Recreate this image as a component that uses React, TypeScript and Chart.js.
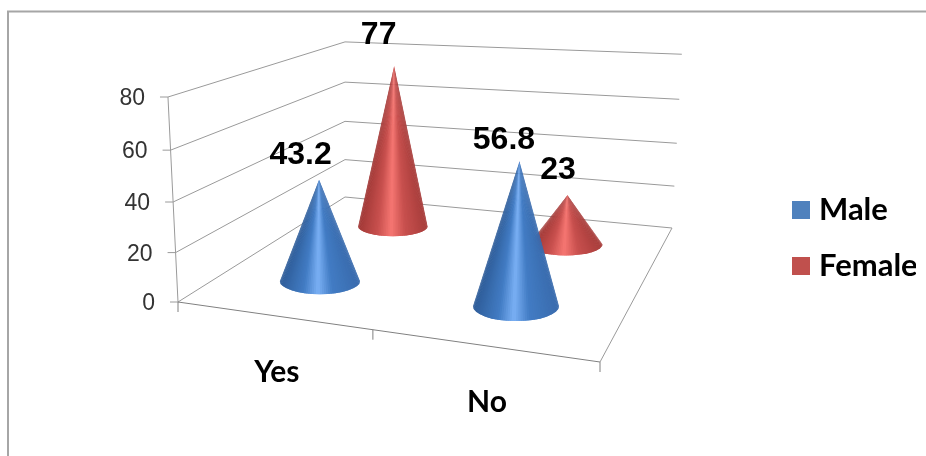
import { useEffect, useRef } from "react";
import { Chart, registerables } from "chart.js";

Chart.register(...registerables);

const categories = ["Yes", "No"];
const seriesNames = ["Male", "Female"];
const maleValues = [43.2, 56.8];
const femaleValues = [77, 23];
const yTickValues = { min: 0, max: 80, step: 20 };
const seriesColors = ["#4F81BD", "#C0504D"];

// Shading around each cone, left to right: [offset, r, g, b].
const coneShades: number[][][] = [
  [[0, 58, 108, 174], [0.32, 66, 124, 196], [0.5, 122, 176, 244], [0.68, 66, 124, 196], [1, 46, 92, 152]],
  [[0, 168, 62, 60], [0.3, 200, 80, 78], [0.5, 246, 118, 114], [0.7, 200, 80, 78], [1, 160, 56, 54]],
];

type Pt = { x: number; y: number };

// Floor corners of the box: front-left, front-right, back-right, back-left.
const A: Pt = { x: 178, y: 302 };
const D: Pt = { x: 600, y: 362 };
const C: Pt = { x: 672, y: 228 };
const B: Pt = { x: 345, y: 197 };

// Square-to-quad perspective coefficients for the floor plane.
const dx1 = D.x - C.x, dx2 = B.x - C.x, sx = A.x - D.x + C.x - B.x;
const dy1 = D.y - C.y, dy2 = B.y - C.y, sy = A.y - D.y + C.y - B.y;
const det = dx1 * dy2 - dx2 * dy1;
const g = (sx * dy2 - dx2 * sy) / det;
const h = (dx1 * sy - sx * dy1) / det;
const ha = D.x - A.x + g * D.x, hb = B.x - A.x + h * B.x;
const hd = D.y - A.y + g * D.y, he = B.y - A.y + h * B.y;

const depthOf = (u: number, v: number) => g * u + h * v + 1;

const WALL_HEIGHT = 205;
const CONE_RADIUS = 42;
const CONE_HEIGHT_RATIO = 0.985;
const CONE_SHIFT = 2.5;

function project(u: number, v: number, t: number): Pt {
  const w = depthOf(u, v);
  const fx = (ha * u + hb * v + A.x) / w;
  const fy = (hd * u + he * v + A.y) / w;
  const eased = t / (1 + 0.05 * (1 - t));
  const lean = (fx - B.x) * (fx < B.x ? 0.06 : 0.03) * eased;
  return { x: fx + lean, y: fy - (WALL_HEIGHT * eased) / w };
}

function coneTip(u: number, v: number, t: number): Pt {
  const p = project(u, v, t * CONE_HEIGHT_RATIO);
  return { x: p.x + CONE_SHIFT, y: p.y };
}

const normU = (chart: any, index: number) => {
  const s = chart.scales.x;
  return (s.getPixelForValue(index) - s.left) / (s.right - s.left);
};
const normT = (chart: any, value: number) => {
  const s = chart.scales.y;
  return (s.bottom - s.getPixelForValue(value)) / (s.bottom - s.top);
};
const seriesDepth = (datasetIndex: number, count: number) => (datasetIndex + 0.5) / count;

// Nudge of each value label from its cone tip, by [series][category].
const labelNudges = [
  [{ x: -18.5, y: -24 }, { x: -15.5, y: -21 }],
  [{ x: -15.5, y: -30 }, { x: -9.5, y: -25 }],
];

function shadeAt(stops: number[][], f: number) {
  for (let i = 1; i < stops.length; i++) {
    if (f <= stops[i][0]) {
      const a = stops[i - 1];
      const b = stops[i];
      const k = (f - a[0]) / (b[0] - a[0]);
      const mix = (n: number) => Math.round(a[n] + (b[n] - a[n]) * k);
      return `rgb(${mix(1)},${mix(2)},${mix(3)})`;
    }
  }
  const l = stops[stops.length - 1];
  return `rgb(${l[1]},${l[2]},${l[3]})`;
}

// A cone is a clipped fan of overlapping triangles from the tip to the front
// half of its base, so the highlight narrows towards the point.
function drawCone(ctx: CanvasRenderingContext2D, base: Pt, tip: Pt, w: number, stops: number[][]) {
  const r = CONE_RADIUS / w;
  const ry = (r * 0.34) / w;
  const slices = 60;
  ctx.save();
  ctx.beginPath();
  ctx.moveTo(tip.x, tip.y);
  ctx.lineTo(base.x + r, base.y);
  ctx.ellipse(base.x, base.y, r, ry, 0, 0, Math.PI);
  ctx.closePath();
  ctx.clip();
  for (let i = slices - 1; i >= 0; i--) {
    const a0 = (Math.PI * i) / slices;
    const a1 = (Math.PI * (i + 1)) / slices;
    // each triangle runs on under the next one and past the base, hiding seams
    const x0 = Math.cos(a0) - 0.0;
    const x1 = Math.cos(Math.min(a1 + 0.05, Math.PI));
    ctx.fillStyle = shadeAt(stops, 0.5 - (Math.cos(a0) + Math.cos(a1)) / 4);
    ctx.beginPath();
    ctx.moveTo(tip.x, tip.y);
    const reach = 1.2;
    ctx.lineTo(tip.x + (base.x + r * x0 - tip.x) * reach, tip.y + (base.y + ry * Math.sin(a0) - tip.y) * reach);
    ctx.lineTo(tip.x + (base.x + r * x1 - tip.x) * reach, tip.y + (base.y + ry * Math.sin(a1) - tip.y) * reach);
    ctx.closePath();
    ctx.fill();
  }
  ctx.restore();
}

const conePlugin = {
  id: "conePlugin",
  afterLayout(chart: any) {
    // Legend sits beside the plot, level with the lower half of the box.
    const lg = chart.legend;
    const pad = lg.options.labels.padding;
    lg.left = 798.5 - pad;
    lg.top = 194.5 - pad;
    lg.bottom = 456;
  },
  beforeDatasetsDraw(chart: any) {
    const ctx: CanvasRenderingContext2D = chart.ctx;
    ctx.save();
    // outer frame of the chart object
    ctx.strokeStyle = "#A6A6A6";
    ctx.lineWidth = 2;
    ctx.beginPath();
    ctx.moveTo(8, 456);
    ctx.lineTo(8, 11.5);
    ctx.lineTo(926, 11.5);
    ctx.stroke();

    const yTicks = chart.scales.y.ticks;
    ctx.lineWidth = 1;
    ctx.strokeStyle = "#9A9A9A";
    // wall gridlines, one per axis tick
    yTicks.forEach((tick: any) => {
      const t = normT(chart, tick.value);
      const p0 = project(0, 0, t);
      const p1 = project(0, 1, t);
      const p2 = project(1, 1, t);
      ctx.beginPath();
      ctx.moveTo(p0.x - 8, p0.y);
      ctx.lineTo(p0.x, p0.y);
      ctx.lineTo(p1.x, p1.y);
      ctx.lineTo(p2.x, p2.y);
      ctx.stroke();
    });
    // value axis
    const bottom = project(0, 0, 0);
    const top = project(0, 0, 1);
    ctx.beginPath();
    ctx.moveTo(top.x, top.y);
    ctx.lineTo(bottom.x, bottom.y);
    ctx.stroke();
    // floor edges and category ticks
    ctx.strokeStyle = "#808080";
    const fr = project(1, 0, 0);
    ctx.beginPath();
    ctx.moveTo(bottom.x, bottom.y);
    ctx.lineTo(fr.x, fr.y);
    ctx.stroke();
    ctx.strokeStyle = "#9A9A9A";
    const br = project(1, 1, 0);
    ctx.beginPath();
    ctx.moveTo(fr.x, fr.y);
    ctx.lineTo(br.x, br.y);
    ctx.stroke();
    ctx.strokeStyle = "#808080";
    for (let i = 0; i <= categories.length; i++) {
      const p = project(i / categories.length, 0, 0);
      ctx.beginPath();
      ctx.moveTo(p.x, p.y);
      ctx.lineTo(p.x, p.y + 10);
      ctx.stroke();
    }
    ctx.restore();
  },
  beforeDatasetDraw(chart: any, args: any) {
    const ctx: CanvasRenderingContext2D = chart.ctx;
    const count = chart.data.datasets.length;
    const v = seriesDepth(args.index, count);
    chart.data.datasets[args.index].data.forEach((value: number, i: number) => {
      const u = normU(chart, i);
      const foot = project(u, v, 0);
      const base = { x: foot.x + CONE_SHIFT, y: foot.y };
      drawCone(ctx, base, coneTip(u, v, normT(chart, value)), depthOf(u, v), coneShades[args.index]);
    });
    // the cone above replaces the stock bar
    return false;
  },
  afterDatasetsDraw(chart: any) {
    const ctx: CanvasRenderingContext2D = chart.ctx;
    const count = chart.data.datasets.length;
    ctx.save();
    ctx.textAlign = "center";
    ctx.textBaseline = "middle";

    // value labels
    ctx.font = 'bold 32px "Liberation Sans"';
    ctx.fillStyle = "#000";
    chart.data.datasets.forEach((ds: any, di: number) => {
      const v = seriesDepth(di, count);
      ds.data.forEach((value: number, i: number) => {
        const tip = coneTip(normU(chart, i), v, normT(chart, value));
        const n = labelNudges[di][i];
        ctx.fillText(String(value), tip.x + n.x, tip.y + n.y);
      });
    });

    // category labels
    ctx.font = "bold 30px Lato";
    chart.scales.x.getLabels().forEach((label: string, i: number) => {
      const p = project(normU(chart, i), 0, 0);
      ctx.fillText(label, p.x + 5, p.y + 57);
    });

    // value axis labels
    ctx.font = '23px "Liberation Sans"';
    ctx.fillStyle = "#333";
    ctx.textAlign = "right";
    chart.scales.y.ticks.forEach((tick: any) => {
      const p = project(0, 0, normT(chart, tick.value));
      ctx.fillText(String(tick.value), p.x - 23, p.y + 2);
    });
    ctx.restore();
  },
};

export default function App() {
  const ref = useRef<HTMLCanvasElement | null>(null);
  useEffect(() => {
    if (!ref.current) return;
    const chart = new Chart(ref.current, {
      type: "bar",
      data: {
        labels: categories,
        datasets: [
          { label: seriesNames[0], data: maleValues, backgroundColor: seriesColors[0] },
          { label: seriesNames[1], data: femaleValues, backgroundColor: seriesColors[1] },
        ],
      },
      options: {
        responsive: false,
        animation: false,
        layout: { padding: { top: 97, bottom: 154, left: 10, right: 10 } },
        scales: {
          x: {
            type: "category",
            offset: true,
            grid: { display: false },
            border: { display: false },
            ticks: { display: false },
          },
          y: {
            type: "linear",
            min: yTickValues.min,
            max: yTickValues.max,
            grid: { display: false },
            border: { display: false },
            ticks: { display: false, stepSize: yTickValues.step },
          },
        },
        plugins: {
          tooltip: { enabled: false },
          legend: {
            position: "right",
            align: "start",
            labels: {
              color: "#000",
              font: { family: "Lato", weight: "bold", size: 31 },
              boxWidth: 5,
              boxHeight: 5,
              padding: 25,
              generateLabels: (c: any) =>
                Chart.defaults.plugins.legend.labels.generateLabels(c).map((item: any) => ({
                  ...item,
                  strokeStyle: item.fillStyle,
                  lineWidth: 13,
                })),
            },
          },
        },
      },
      plugins: [conePlugin],
    } as any);
    return () => chart.destroy();
  }, []);
  return (
    <div style={{ position: "absolute", left: 0, top: 0, width: 926, height: 456 }}>
      <canvas ref={ref} width={926} height={456} style={{ display: "block" }} />
    </div>
  );
}
